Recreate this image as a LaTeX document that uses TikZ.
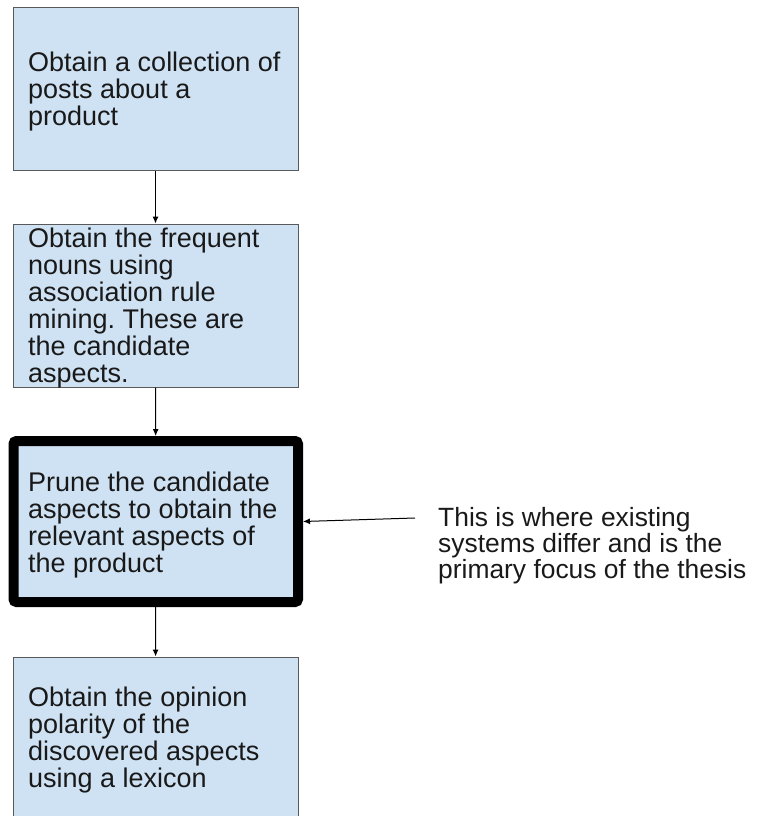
\documentclass[tikz,border=0pt]{standalone}
\usepackage{fontspec}
\setmainfont{Liberation Sans}
\frenchspacing
\usetikzlibrary{arrows.meta}
\definecolor{boxfill}{HTML}{CFE2F3}
\definecolor{boxline}{HTML}{595959}
\tikzset{
  stepbox/.style={draw=boxline, line width=1pt, fill=boxfill, rectangle,
    minimum width=285pt, inner sep=0pt},
  keybox/.style={stepbox, draw=black, line width=10pt, rounded corners=3pt, minimum width=284.5pt},
  steptext/.style={anchor=base west, align=left, inner sep=0pt,
    font=\fontsize{27}{27}\selectfont, text=black!90},
  flow/.style={draw=black, line width=1pt, -{Latex[length=7pt,width=6pt]}},
  note/.style={font=\fontsize{26.4}{25.8}\selectfont, align=left, inner sep=0pt,
    anchor=base west, text=black!90}
}
\begin{document}
\begin{tikzpicture}[x=1pt,y=-1pt]
\useasboundingbox (0,0) rectangle (756,816);
\clip (0,0) rectangle (756,816);
\node[stepbox, minimum height=162pt] (b1) at (155.5,89) {};
\node[stepbox, minimum height=163pt] (b2) at (155.5,305.5) {};
\node[keybox, minimum height=161pt] (b3) at (155.75,521.5) {};
\node[stepbox, minimum height=166pt] (b4) at (155.5,740) {};
\node[steptext] (t1) at (28,125)
  {Obtain a collection of\\posts about a\\product};
\node[steptext] (t2) at (28,382)
  {Obtain the frequent\\nouns using\\association rule\\mining. These are\\the candidate\\aspects.};
\node[steptext] (t3) at (28,572)
  {Prune the candidate\\aspects to obtain the\\relevant aspects of\\the product};
\node[steptext] (t4) at (28,787)
  {Obtain the opinion\\polarity of the\\discovered aspects\\using a lexicon};
\coordinate (noteend) at (415,518);
\node[note] (note) at (438,578)
  {This is where existing\\systems differ and is the\\primary focus of the thesis};
\draw[flow] (b1) -- (b2);
\draw[flow] (b2) -- (b3);
\draw[flow] (b3) -- (b4);
\draw[flow] (noteend) -- (b3.east);
\end{tikzpicture}
\end{document}
